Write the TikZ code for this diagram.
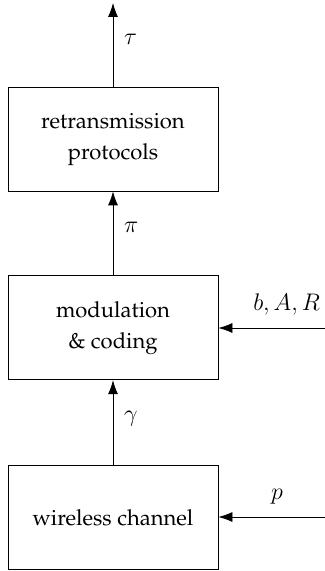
\documentclass[tikz,border=0pt]{standalone}
\usepackage[T1]{fontenc}
\usepackage{palatino}
\usetikzlibrary{positioning,arrows.meta}
\tikzset{
  block/.style={draw, minimum width=105pt, minimum height=52pt, align=center, inner sep=2pt,
    font=\fontsize{11}{15.5}\selectfont},
  lbl/.style={font=\fontsize{13}{15}\selectfont},
  flow/.style={-{Latex[length=7pt,width=5pt]}}
}
\begin{document}
\begin{tikzpicture}[x=0.5pt,y=-0.5pt, node distance=42pt]
  \useasboundingbox (0,0) rectangle (325,571);
  % blocks, bottom to top
  \node[block] (retx) at (113,139) {retransmission\\protocols};
  \node[block, below=of retx] (modcod) {modulation\\\& coding};
  \node[block, below=42.5pt of modcod] (chan) {wireless channel};
  % outputs
  \coordinate (out) at (113,3);
  \coordinate (inmod) at (325,328);
  \coordinate (inchan) at (325,517);
  \draw[flow] (chan) -- node[lbl, pos=.55, right=2pt] {$\gamma$} (modcod);
  \draw[flow] (modcod) -- node[lbl, pos=.57, right=2pt] {$\pi$} (retx);
  \draw[flow] (retx) -- node[lbl, pos=.57, right=2pt] {$\tau$} (out);
  % inputs
  \draw[flow] (inmod) -- node[lbl, pos=.36, above=3pt] {$b, A, R$} (modcod.east |- inmod);
  \draw[flow] (inchan) -- node[lbl, pos=.45, above=3pt] {$p$} (chan.east |- inchan);
\end{tikzpicture}
\end{document}
